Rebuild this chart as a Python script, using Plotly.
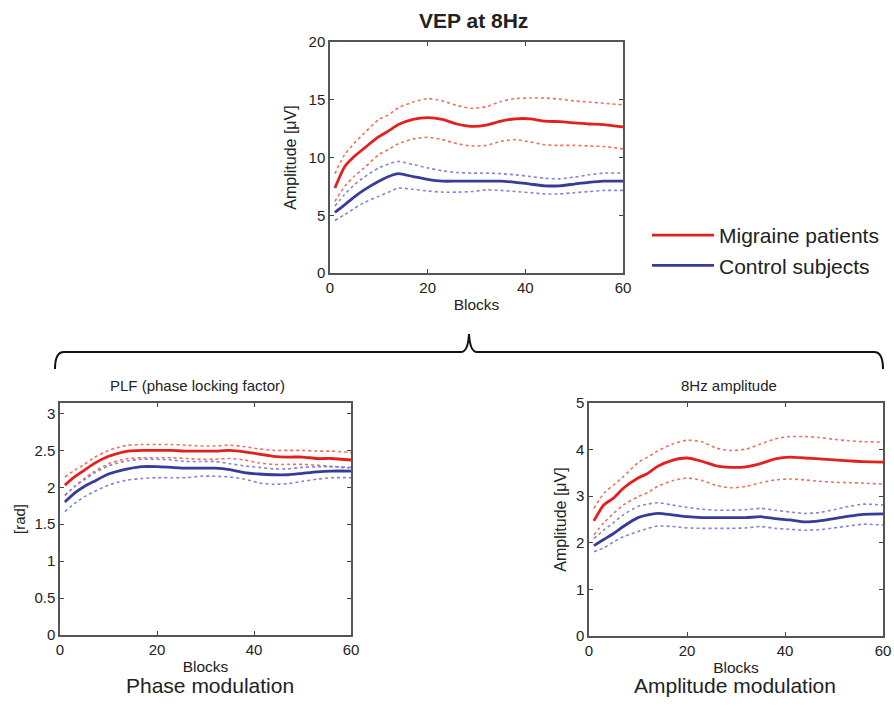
import plotly.graph_objects as go

W, H = 894, 726

blocks = [1, 3, 5, 7, 10, 12, 14, 17, 20, 23, 26, 29, 32, 35, 38, 41, 44, 47, 50, 53, 56, 60]

# VEP at 8Hz (top)
vep_mig_mean = [7.36, 9.2, 10.1, 10.8, 11.8, 12.3, 12.85, 13.3, 13.45, 13.3, 12.9, 12.7, 12.8, 13.15, 13.35, 13.35, 13.15, 13.1, 13.0, 12.9, 12.85, 12.65]
vep_mig_up = [8.6, 10.25, 11.25, 12.1, 13.3, 13.7, 14.3, 14.8, 15.1, 14.9, 14.5, 14.25, 14.4, 14.85, 15.1, 15.15, 15.15, 15.05, 14.9, 14.8, 14.7, 14.55]
vep_mig_lo = [6.2, 7.5, 8.4, 9.1, 10.25, 10.7, 11.2, 11.6, 11.75, 11.55, 11.2, 11.0, 11.05, 11.4, 11.55, 11.35, 11.1, 11.05, 11.05, 11.0, 10.95, 10.75]
vep_ctl_mean = [5.25, 5.9, 6.6, 7.2, 7.95, 8.35, 8.6, 8.35, 8.1, 7.95, 7.95, 7.95, 7.95, 7.95, 7.85, 7.7, 7.55, 7.55, 7.7, 7.85, 7.95, 7.95]
vep_ctl_up = [5.8, 6.8, 7.65, 8.3, 9.1, 9.45, 9.65, 9.4, 9.1, 8.85, 8.7, 8.65, 8.65, 8.6, 8.5, 8.35, 8.2, 8.15, 8.3, 8.5, 8.65, 8.65]
vep_ctl_lo = [4.55, 5.05, 5.6, 6.1, 6.65, 7.0, 7.35, 7.25, 7.1, 7.0, 7.0, 7.05, 7.2, 7.15, 7.05, 6.95, 6.85, 6.85, 6.95, 7.05, 7.15, 7.15]

# PLF (bottom left)
plf_mig_mean = [2.03, 2.14, 2.23, 2.32, 2.42, 2.46, 2.49, 2.50, 2.50, 2.50, 2.49, 2.49, 2.49, 2.50, 2.48, 2.45, 2.42, 2.41, 2.41, 2.39, 2.39, 2.37]
plf_mig_up = [2.14, 2.23, 2.31, 2.40, 2.50, 2.54, 2.57, 2.58, 2.58, 2.58, 2.57, 2.56, 2.56, 2.57, 2.55, 2.52, 2.50, 2.50, 2.50, 2.49, 2.49, 2.47]
plf_mig_lo = [1.89, 2.01, 2.12, 2.21, 2.32, 2.36, 2.39, 2.40, 2.40, 2.40, 2.39, 2.38, 2.38, 2.39, 2.37, 2.33, 2.31, 2.31, 2.31, 2.30, 2.28, 2.26]
plf_ctl_mean = [1.80, 1.92, 2.01, 2.08, 2.18, 2.22, 2.25, 2.28, 2.28, 2.27, 2.26, 2.26, 2.26, 2.24, 2.20, 2.18, 2.17, 2.17, 2.19, 2.21, 2.22, 2.22]
plf_ctl_up = [1.89, 2.01, 2.10, 2.19, 2.29, 2.33, 2.36, 2.38, 2.38, 2.37, 2.35, 2.35, 2.35, 2.32, 2.29, 2.27, 2.25, 2.25, 2.27, 2.28, 2.28, 2.27]
plf_ctl_lo = [1.67, 1.78, 1.87, 1.94, 2.03, 2.07, 2.10, 2.12, 2.13, 2.13, 2.13, 2.15, 2.15, 2.14, 2.11, 2.06, 2.04, 2.05, 2.08, 2.11, 2.13, 2.13]

# 8Hz amplitude (bottom right)
amp_mig_mean = [2.47, 2.81, 2.96, 3.17, 3.39, 3.49, 3.64, 3.77, 3.82, 3.75, 3.65, 3.62, 3.63, 3.70, 3.80, 3.84, 3.82, 3.80, 3.78, 3.76, 3.74, 3.73]
amp_mig_up = [2.74, 3.06, 3.24, 3.42, 3.72, 3.84, 3.97, 4.12, 4.20, 4.17, 4.03, 3.98, 4.01, 4.12, 4.23, 4.28, 4.28, 4.26, 4.22, 4.19, 4.17, 4.16]
amp_mig_lo = [2.17, 2.43, 2.63, 2.81, 2.99, 3.08, 3.21, 3.33, 3.39, 3.34, 3.23, 3.18, 3.21, 3.29, 3.35, 3.37, 3.35, 3.32, 3.30, 3.29, 3.28, 3.26]
amp_ctl_mean = [1.94, 2.07, 2.20, 2.35, 2.54, 2.60, 2.63, 2.60, 2.56, 2.54, 2.54, 2.54, 2.54, 2.56, 2.52, 2.49, 2.45, 2.47, 2.52, 2.57, 2.61, 2.62]
amp_ctl_up = [2.09, 2.27, 2.43, 2.60, 2.78, 2.83, 2.86, 2.81, 2.76, 2.72, 2.70, 2.70, 2.71, 2.74, 2.70, 2.66, 2.63, 2.65, 2.71, 2.78, 2.83, 2.81]
amp_ctl_lo = [1.81, 1.89, 2.02, 2.13, 2.24, 2.31, 2.36, 2.35, 2.32, 2.31, 2.31, 2.31, 2.32, 2.35, 2.31, 2.29, 2.27, 2.28, 2.32, 2.36, 2.40, 2.38]

x_ticks = [0, 20, 40, 60]
vep_yticks = [0, 5, 10, 15, 20]
plf_yticks = [0, 0.5, 1, 1.5, 2, 2.5, 3]
amp_yticks = [0, 1, 2, 3, 4, 5]

RED = "#e3201b"
RED_L = "#f0705f"
BLUE = "#373c99"
BLUE_L = "#8385cf"
FONT = "Liberation Sans, Arial, sans-serif"
TXT = "#222222"


def px(x):
    return x / W


def py(y):
    return 1 - y / H


fig = go.Figure()

panels = [
    ("x", "y", vep_mig_mean, vep_mig_up, vep_mig_lo, vep_ctl_mean, vep_ctl_up, vep_ctl_lo, True),
    ("x2", "y2", plf_mig_mean, plf_mig_up, plf_mig_lo, plf_ctl_mean, plf_ctl_up, plf_ctl_lo, False),
    ("x3", "y3", amp_mig_mean, amp_mig_up, amp_mig_lo, amp_ctl_mean, amp_ctl_up, amp_ctl_lo, False),
]

for xa, ya, mm, mu, ml, cm, cu, cl, leg in panels:
    for vals, col in [(mu, RED_L), (ml, RED_L), (cu, BLUE_L), (cl, BLUE_L)]:
        fig.add_trace(go.Scatter(x=blocks, y=vals, mode="lines", xaxis=xa, yaxis=ya,
                                 line=dict(color=col, width=1.6, dash="dot", shape="spline", smoothing=0.6),
                                 showlegend=False, hoverinfo="skip"))
    fig.add_trace(go.Scatter(x=blocks, y=mm, mode="lines", xaxis=xa, yaxis=ya, name="Migraine patients",
                             line=dict(color=RED, width=2.8, shape="spline", smoothing=0.6),
                             showlegend=leg, legendrank=1))
    fig.add_trace(go.Scatter(x=blocks, y=cm, mode="lines", xaxis=xa, yaxis=ya, name="Control subjects",
                             line=dict(color=BLUE, width=2.8, shape="spline", smoothing=0.6),
                             showlegend=leg, legendrank=2))

axis_common = dict(showline=True, linecolor="#555555", linewidth=1.5, mirror="ticks",
                   ticks="inside", ticklen=4, tickcolor="#444444", tickwidth=1, automargin=False,
                   showgrid=False, zeroline=False, tickfont=dict(size=15, color=TXT, family=FONT))

fig.update_layout(
    width=W, height=H, margin=dict(l=0, r=0, t=0, b=0, autoexpand=False),
    paper_bgcolor="white", plot_bgcolor="white",
    font=dict(family=FONT, color=TXT),
    xaxis=dict(domain=[px(330), px(623)], range=[0, 60], tickvals=x_ticks, anchor="y",
               title=dict(text="Blocks", font=dict(size=15.5), standoff=4), **axis_common),
    yaxis=dict(domain=[py(273), py(42)], range=[0, 20], tickvals=vep_yticks, anchor="x",
               title=dict(text="Amplitude [μV]", font=dict(size=16), standoff=8), **axis_common),
    xaxis2=dict(domain=[px(60), px(351)], range=[0, 60], tickvals=x_ticks, anchor="y2",
                title=dict(text="Blocks", font=dict(size=15.5), standoff=4), **axis_common),
    yaxis2=dict(domain=[py(635), py(403)], range=[0, 3.14159], tickvals=plf_yticks, anchor="x2",
                title=dict(text="[rad]", font=dict(size=15), standoff=5), **axis_common),
    xaxis3=dict(domain=[px(589), px(883)], range=[0, 60], tickvals=x_ticks, anchor="y3",
                title=dict(text="Blocks", font=dict(size=15.5), standoff=4), **axis_common),
    yaxis3=dict(domain=[py(636), py(403)], range=[0, 5], tickvals=amp_yticks, anchor="x3",
                title=dict(text="Amplitude [μV]", font=dict(size=16), standoff=5), **axis_common),
    legend=dict(x=px(647), y=py(215), xanchor="left", yanchor="top",
                font=dict(size=21, color=TXT, family=FONT), bgcolor="rgba(0,0,0,0)",
                itemwidth=62, tracegroupgap=0),
    showlegend=True,
)

annots = [
    dict(text="<b>VEP at 8Hz</b>", x=px(473), y=py(20), size=21),
    dict(text="PLF (phase locking factor)", x=px(197), y=py(385), size=15),
    dict(text="8Hz amplitude", x=px(729), y=py(385), size=15),
    dict(text="Phase modulation", x=px(210), y=py(685), size=21),
    dict(text="Amplitude modulation", x=px(735), y=py(685), size=21),
]
for a in annots:
    fig.add_annotation(text=a["text"], x=a["x"], y=a["y"], xref="paper", yref="paper",
                       xanchor="center", yanchor="middle", showarrow=False,
                       font=dict(size=a["size"], color=TXT, family=FONT))

# curly brace connecting the panels
pts = [
    ("M", 55, 369), ("Q", 55, 352, 64, 352), ("L", 461, 352),
    ("Q", 468, 352, 469, 334), ("Q", 470, 352, 477, 352),
    ("L", 874, 352), ("Q", 883, 352, 883, 369),
]
path = ""
for p in pts:
    cmd = p[0]
    coords = p[1:]
    seg = []
    for i in range(0, len(coords), 2):
        seg.append(f"{px(coords[i]):.5f},{py(coords[i+1]):.5f}")
    path += cmd + " ".join(seg) + " "
fig.add_shape(type="path", path=path.strip(), xref="paper", yref="paper",
              line=dict(color="#111111", width=2))

fig.write_html("out.html", config={"displayModeBar": False},
               post_script="document.body.style.margin='0px';")
